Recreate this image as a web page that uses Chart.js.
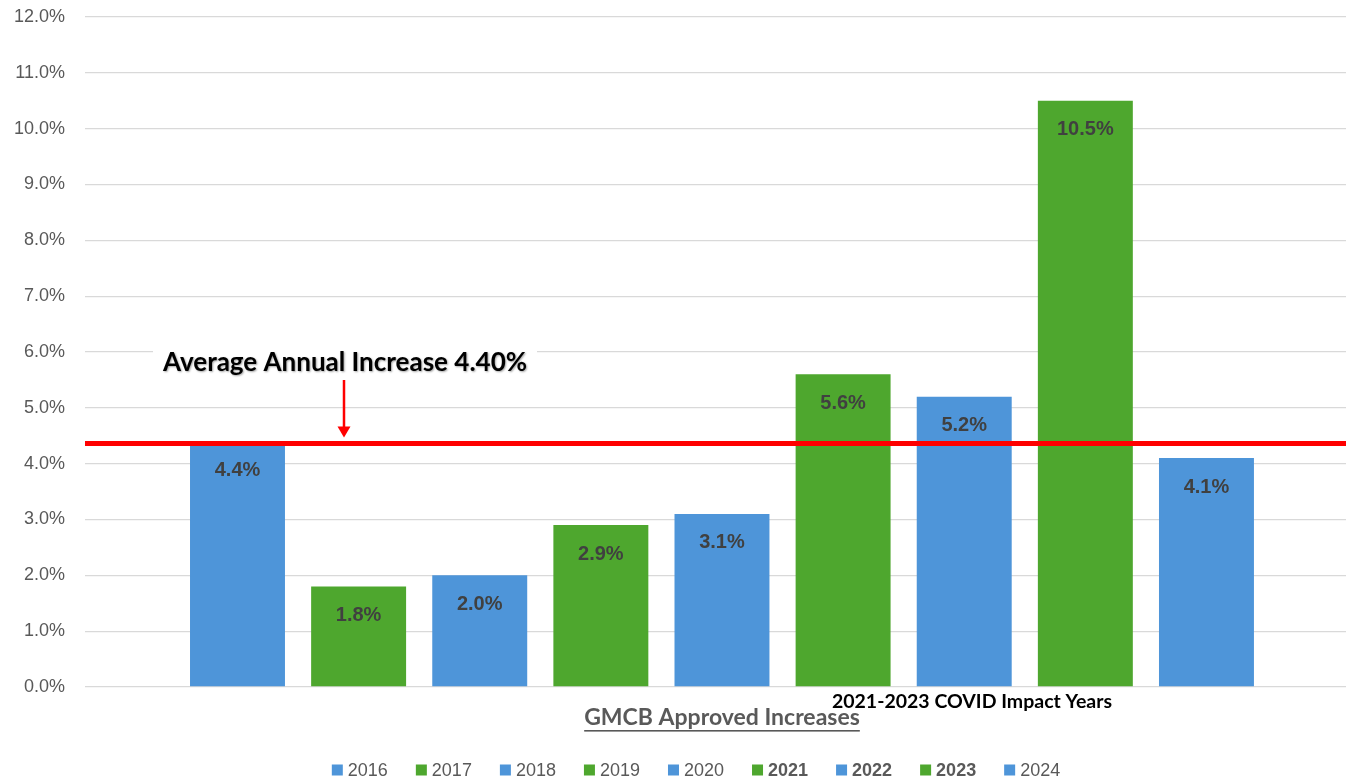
<!DOCTYPE html>
<html>
<head>
<meta charset="utf-8">
<script src="https://cdn.jsdelivr.net/npm/chart.js@4.4.1/dist/chart.umd.min.js"></script>
<style>
  html, body { margin: 0; padding: 0; background: #ffffff; }
  #wrap { width: 1346px; height: 783px; position: relative; }
</style>
</head>
<body>
<div id="wrap"><canvas id="c"></canvas></div>
<script>
// ---- data ----
const years = ['2016', '2017', '2018', '2019', '2020', '2021', '2022', '2023', '2024'];
const increases = [4.4, 1.8, 2.0, 2.9, 3.1, 5.6, 5.2, 10.5, 4.1];
const yTicks = [0, 1, 2, 3, 4, 5, 6, 7, 8, 9, 10, 11, 12];
const averageLine = 4.36;
const averageLabel = 'Average Annual Increase 4.40%';
const covidNote = '2021-2023 COVID Impact Years';
const axisTitle = 'GMCB Approved Increases';
const boldYears = ['2021', '2022', '2023'];

// ---- styles ----
const BLUE = '#4E95D9';
const GREEN = '#4EA72E';
const barColors = years.map((y, i) => (i % 2 === 0 ? BLUE : GREEN));

const overlay = {
  id: 'overlay',
  afterDatasetsDraw(chart) {
    const ctx = chart.ctx;
    const ca = chart.chartArea;
    const ys = chart.scales.y;
    const meta = chart.getDatasetMeta(0);

    // red average line
    const yAvg = ys.getPixelForValue(averageLine);
    ctx.save();
    ctx.strokeStyle = '#FF0000';
    ctx.lineWidth = 5;
    ctx.beginPath();
    ctx.moveTo(ca.left, yAvg);
    ctx.lineTo(ca.right, yAvg);
    ctx.stroke();
    ctx.restore();

    // bar value labels
    ctx.save();
    ctx.font = 'bold 20px "Liberation Sans", Arial, sans-serif';
    ctx.fillStyle = '#404040';
    ctx.textAlign = 'center';
    ctx.textBaseline = 'middle';
    meta.data.forEach((bar, i) => {
      ctx.fillText(increases[i].toFixed(1) + '%', bar.x, bar.y + 29);
    });
    ctx.restore();

    // average annotation text with white box
    const tx = 345, ty = 363;
    ctx.save();
    ctx.font = 'bold 26px Lato, "Open Sans", sans-serif';
    const tw = ctx.measureText(averageLabel).width;
    ctx.fillStyle = '#ffffff';
    ctx.fillRect(tx - tw / 2 - 10, ty - 13, tw + 20, 27);
    ctx.fillStyle = '#000000';
    ctx.textAlign = 'center';
    ctx.textBaseline = 'middle';
    ctx.shadowColor = 'rgba(0,0,0,0.35)';
    ctx.shadowBlur = 2;
    ctx.shadowOffsetX = 1;
    ctx.shadowOffsetY = 1;
    ctx.fillText(averageLabel, tx, ty);
    ctx.restore();

    // arrow
    const tip = yAvg - 6;
    ctx.save();
    ctx.strokeStyle = '#FF0000';
    ctx.fillStyle = '#FF0000';
    ctx.lineWidth = 2.5;
    ctx.beginPath();
    ctx.moveTo(tx - 1, 380);
    ctx.lineTo(tx - 1, tip - 9);
    ctx.stroke();
    ctx.beginPath();
    ctx.moveTo(tx - 1 - 6.5, tip - 11);
    ctx.lineTo(tx - 1 + 6.5, tip - 11);
    ctx.lineTo(tx - 1, tip);
    ctx.closePath();
    ctx.fill();
    ctx.restore();

    // covid note
    ctx.save();
    ctx.font = 'bold 19.5px Lato, "Open Sans", sans-serif';
    ctx.fillStyle = '#000000';
    ctx.textAlign = 'center';
    ctx.textBaseline = 'middle';
    ctx.fillText(covidNote, 972, 702);
    ctx.restore();

    // axis title, underlined
    ctx.save();
    ctx.font = 'bold 23px Lato, "Open Sans", sans-serif';
    ctx.fillStyle = '#595959';
    ctx.textAlign = 'center';
    ctx.textBaseline = 'middle';
    const ax = 722, ay = 718;
    ctx.fillText(axisTitle, ax, ay);
    const aw = ctx.measureText(axisTitle).width;
    ctx.fillRect(ax - aw / 2, ay + 12, aw, 1.6);
    ctx.restore();

    // legend
    ctx.save();
    const box = 11, gapT = 5, gapI = 28, ly = 770;
    const items = years.map((y, i) => {
      const bold = boldYears.includes(y);
      const font = (bold ? 'bold ' : '') + '18px "Liberation Sans", Arial, sans-serif';
      ctx.font = font;
      return { text: y, font, color: barColors[i], w: ctx.measureText(y).width };
    });
    const total = items.reduce((s, it) => s + box + gapT + it.w, 0) + gapI * (items.length - 1);
    let x = 696 - total / 2;
    ctx.textBaseline = 'middle';
    ctx.textAlign = 'left';
    items.forEach(it => {
      ctx.fillStyle = it.color;
      ctx.fillRect(x, ly - box / 2, box, box);
      x += box + gapT;
      ctx.font = it.font;
      ctx.fillStyle = '#595959';
      ctx.fillText(it.text, x, ly + 1);
      x += it.w + gapI;
    });
    ctx.restore();
  }
};

new Chart(document.getElementById('c'), {
  type: 'bar',
  data: {
    datasets: [{
      label: 'GMCB Approved Increases',
      data: increases.map((v, i) => ({ x: i, y: v })),
      backgroundColor: barColors,
      borderWidth: 0,
      barPercentage: 0.784,
      categoryPercentage: 1.0
    }]
  },
  options: {
    responsive: true,
    maintainAspectRatio: false,
    animation: false,
    layout: { padding: { left: 14, right: 0, top: 17, bottom: 96 } },
    plugins: {
      legend: { display: false },
      tooltip: { enabled: false },
      title: { display: false }
    },
    scales: {
      x: {
        type: 'linear',
        display: false,
        offset: false,
        min: -1.259,
        max: 9.152,
        ticks: { stepSize: 1, includeBounds: false },
        grid: { display: false }
      },
      y: {
        min: 0,
        max: 12,
        afterBuildTicks(scale) { scale.ticks = yTicks.map(v => ({ value: v })); },
        afterFit(scale) { scale.width = 71; scale.paddingTop = 0; scale.paddingBottom = 0; },
        border: { display: false },
        grid: { color: '#D9D9D9', lineWidth: 1.3, drawTicks: false },
        ticks: {
          padding: 20,
          color: '#595959',
          font: { family: '"Liberation Sans", Arial, sans-serif', size: 18 },
          callback: v => Number(v).toFixed(1) + '%'
        }
      }
    }
  },
  plugins: [overlay]
});
</script>
</body>
</html>
